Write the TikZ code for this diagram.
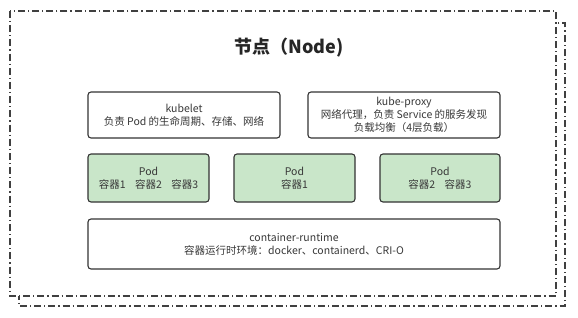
\documentclass[tikz,border=0pt]{standalone}
\usepackage{fontspec}
\setmainfont{Noto Sans CJK SC}
\begin{document}
\begin{tikzpicture}[x=1pt,y=-1pt,
  frame/.style={draw=black!75, line width=1.1pt, dash pattern=on 7pt off 3pt on 1.2pt off 3pt},
  box/.style={draw=black!80, line width=1.1pt, rounded corners=3pt, fill=white, align=center,
    font=\fontsize{10.5}{12.8}\selectfont, text=black!78, inner sep=0pt},
  podbox/.style={box, fill=green!50!black!22!white}
]
\useasboundingbox (0,0) rectangle (578,318);
\definecolor{podgreen}{HTML}{C9E6C9}
\draw[frame] (19,23) rectangle (565,306);
\draw[frame, fill=white] (10,11) rectangle (556,296);
\node[font=\bfseries\fontsize{18}{20}\selectfont, text=black!85] (title) at (289,48) {节点（Node)};
\node[box, minimum width=192pt, minimum height=46pt] (kubelet) at (184,115)
  {kubelet\\负责 Pod 的生命周期、存储、网络};
\node[box, minimum width=192pt, minimum height=46pt] (proxy) at (404,115)
  {kube-proxy\\网络代理，负责 Service 的服务发现\\负载均衡（4层负载）};
\node[podbox, fill=podgreen, minimum width=121pt, minimum height=48pt] (pod1) at (148.5,178)
  {Pod\\容器1\hspace{0.9em}容器2\hspace{0.9em}容器3};
\node[podbox, fill=podgreen, minimum width=121pt, minimum height=48pt] (pod2) at (294.5,178)
  {Pod\\容器1};
\node[podbox, fill=podgreen, minimum width=120pt, minimum height=48pt] (pod3) at (440,178)
  {Pod\\容器2\hspace{0.9em}容器3};
\node[box, minimum width=412pt, minimum height=50pt] (runtime) at (294,244)
  {container-runtime\\容器运行时环境：docker、containerd、CRI-O};
\end{tikzpicture}
\end{document}
